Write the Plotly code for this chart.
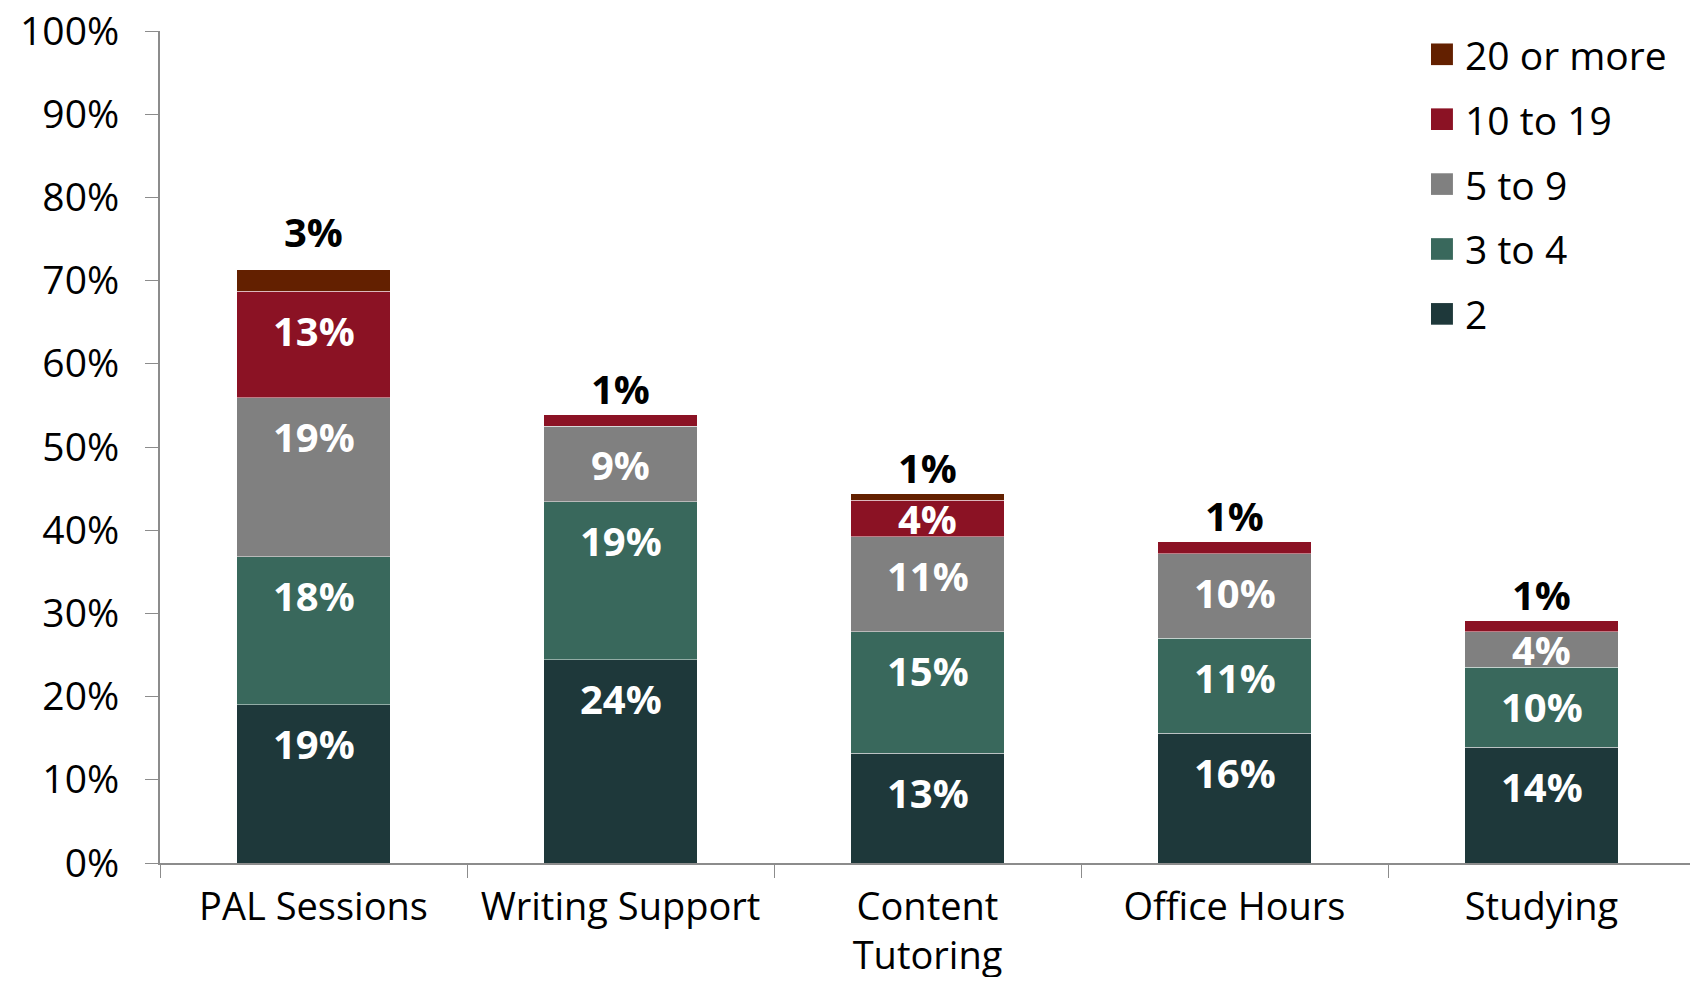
import plotly.graph_objects as go

categories = ["PAL Sessions", "Writing Support", "Content<br>Tutoring", "Office Hours", "Studying"]
series_names = ["2", "3 to 4", "5 to 9", "10 to 19", "20 or more"]
colors = ["#1E383A", "#39685C", "#808080", "#8B1224", "#632000"]

v_2 = [19.0, 24.4, 13.2, 15.6, 13.9]
v_3to4 = [17.8, 19.0, 14.6, 11.4, 9.6]
v_5to9 = [19.1, 9.1, 11.4, 10.2, 4.3]
v_10to19 = [12.8, 1.4, 4.4, 1.4, 1.3]
v_20plus = [2.6, 0.0, 0.8, 0.0, 0.0]

series = [v_2, v_3to4, v_5to9, v_10to19, v_20plus]
FONT = "Open Sans"

# page has an 8px body margin, so the figure is sized to fit without scrollbars
W, H = 1690, 969
ML, MR, MT, MB = 152, 3, 23, 114
px_per_pct = (H - MT - MB) / 100.0

fig = go.Figure()
for name, vals, col in zip(series_names, series, colors):
    fig.add_trace(go.Bar(
        x=categories, y=vals, name=name, marker_color=col,
        marker_line=dict(color="rgba(255,255,255,0.45)", width=1),
        showlegend=False, width=0.5, hoverinfo="x+y+name",
    ))

# segment labels: near the top of each segment, centred if the segment is short
for i, cat in enumerate(categories):
    base = 0.0
    small = None
    for vals in series:
        v = vals[i]
        top = base + v
        if v >= 3:
            shift = min(39, v * px_per_pct / 2)
            fig.add_annotation(x=cat, y=top, yshift=-shift, text=f"<b>{round(v):.0f}%</b>",
                               showarrow=False, yanchor="middle",
                               font=dict(size=40, color="white", family=FONT))
        elif v > 0:
            small = v
        base = top
    if small is not None:
        fig.add_annotation(x=cat, y=base, text=f"<b>{round(small):.0f}%</b>",
                           showarrow=False, yanchor="bottom",
                           yshift=9 if small >= 2 else -3,
                           font=dict(size=40, color="black", family=FONT))

# legend drawn by hand (top item first)
for k, (name, col) in enumerate(reversed(list(zip(series_names, colors)))):
    yc = 0.972 - k * 0.078
    fig.add_shape(type="rect", xref="paper", yref="paper",
                  x0=0.828, x1=0.8423, y0=yc - 0.013, y1=yc + 0.013,
                  fillcolor=col, line_width=0)
    fig.add_annotation(xref="paper", yref="paper", x=0.849, y=yc, text=name,
                       showarrow=False, xanchor="left", yanchor="middle",
                       font=dict(size=39, color="black", family=FONT))

fig.update_layout(
    barmode="stack", width=W, height=H,
    plot_bgcolor="white", paper_bgcolor="white",
    font=dict(family=FONT, size=38, color="black"),
    margin=dict(l=ML, r=MR, t=MT, b=MB, autoexpand=False),
    bargap=0.5,
)
fig.update_yaxes(range=[0, 100], tickvals=list(range(0, 101, 10)),
                 ticktext=[f"{v}%" for v in range(0, 101, 10)],
                 showgrid=False, showline=True, linecolor="#8C8C8C", linewidth=2,
                 ticks="outside", ticklen=13, tickcolor="#8C8C8C", ticklabelstandoff=18,
                 ticklabeloverflow="allow", tickfont=dict(size=39))
fig.update_xaxes(showline=True, linecolor="#8C8C8C", linewidth=2,
                 ticks="outside", ticklen=13, tickcolor="#8C8C8C", tickson="boundaries",
                 ticklabelstandoff=9, tickfont=dict(size=38))

fig.write_html("out.html")
